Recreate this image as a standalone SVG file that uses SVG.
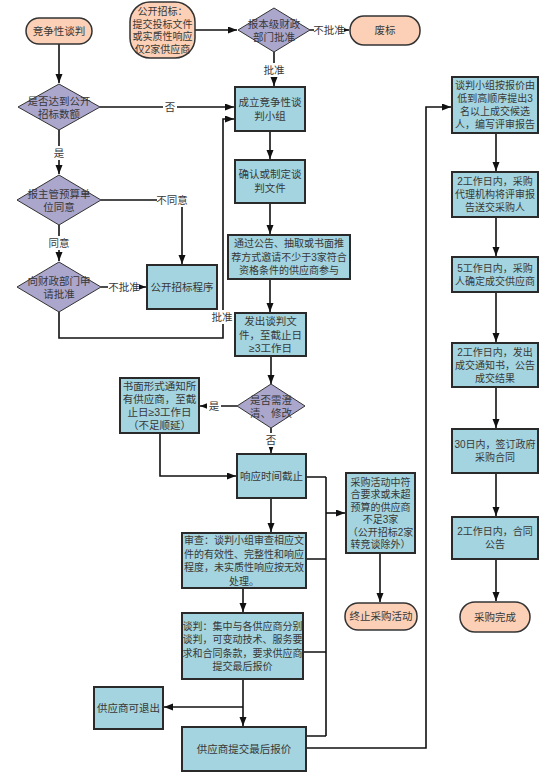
<svg xmlns="http://www.w3.org/2000/svg" width="555" height="774" viewBox="0 0 555 774">
<defs>
<marker id="arr" markerWidth="10" markerHeight="8" refX="9" refY="3.5" orient="auto" markerUnits="userSpaceOnUse">
<path d="M0,0 L9,3.5 L0,7 z" fill="#111"/>
</marker>
</defs>
<style>
text{font-family:"Liberation Sans","Noto Sans CJK SC",sans-serif;font-size:10.5px;fill:#383838;text-anchor:middle}
.s{font-size:10px}
.pill{fill:#fbd0b6;stroke:#333;stroke-width:1.5}
.box{fill:#a3d4df;stroke:#2a2a2a;stroke-width:2}
.dia{fill:#aba6cc;stroke:#333;stroke-width:1}
.ln{fill:none;stroke:#111;stroke-width:1.6}
.lb{fill:#fff}
</style>
<rect width="555" height="774" fill="#fff"/>
<g id="connectors">
<path class="ln" d="M59,44 V83" marker-end="url(#arr)"/>
<path class="ln" d="M195,30 H237" marker-end="url(#arr)"/>
<path class="ln" d="M310,30 H349" marker-end="url(#arr)"/>
<rect class="lb" x="314" y="23" width="30" height="14"/><text x="329" y="34">不批准</text>
<path class="ln" d="M274,52 V86" marker-end="url(#arr)"/>
<rect class="lb" x="262" y="63" width="24" height="14"/><text x="274" y="74">批准</text>
<path class="ln" d="M100,107 H234" marker-end="url(#arr)"/>
<rect class="lb" x="163" y="100" width="14" height="14"/><text x="170" y="111">否</text>
<path class="ln" d="M59,130 V174" marker-end="url(#arr)"/>
<rect class="lb" x="52" y="146" width="14" height="14"/><text x="59" y="157">是</text>
<path class="ln" d="M101,200 H182 V264" marker-end="url(#arr)"/>
<rect class="lb" x="157" y="193" width="31" height="14"/><text x="172" y="204">不同意</text>
<path class="ln" d="M59,225 V261" marker-end="url(#arr)"/>
<rect class="lb" x="47" y="236" width="24" height="14"/><text x="59" y="247">同意</text>
<path class="ln" d="M101,287 H146" marker-end="url(#arr)"/>
<rect class="lb" x="108" y="280" width="31" height="14"/><text x="124" y="291">不批准</text>
<path class="ln" d="M59,312 V338 H223 V119 H234" marker-end="url(#arr)"/>
<rect class="lb" x="210" y="310" width="25" height="14"/><text x="222" y="321">批准</text>
<path class="ln" d="M270,131 V159" marker-end="url(#arr)"/>
<path class="ln" d="M270,203 V234" marker-end="url(#arr)"/>
<path class="ln" d="M270,279 V312" marker-end="url(#arr)"/>
<path class="ln" d="M271,356 V384" marker-end="url(#arr)"/>
<path class="ln" d="M237,406 H200" marker-end="url(#arr)"/>
<rect class="lb" x="207" y="399" width="14" height="14"/><text x="214" y="410">是</text>
<path class="ln" d="M160,433 V476 H236" marker-end="url(#arr)"/>
<path class="ln" d="M271,428 V453" marker-end="url(#arr)"/>
<rect class="lb" x="264" y="433" width="14" height="14"/><text x="271" y="444">否</text>
<path class="ln" d="M271,498 V532" marker-end="url(#arr)"/>
<path class="ln" d="M243,588 V612" marker-end="url(#arr)"/>
<path class="ln" d="M243,679 V726" marker-end="url(#arr)"/>
<path class="ln" d="M243,707 H164" marker-end="url(#arr)"/>
<path class="ln" d="M306,477 H326 M306,559 H326 M303,652 H326 M306,736 H326 M326,477 V736"/>
<path class="ln" d="M326,513 H345" marker-end="url(#arr)"/>
<path class="ln" d="M380,553 V602" marker-end="url(#arr)"/>
<path class="ln" d="M306,748 H426 V107 H451" marker-end="url(#arr)"/>
<path class="ln" d="M496,133 V171" marker-end="url(#arr)"/>
<path class="ln" d="M496,217 V256" marker-end="url(#arr)"/>
<path class="ln" d="M496,292 V342" marker-end="url(#arr)"/>
<path class="ln" d="M496,387 V428" marker-end="url(#arr)"/>
<path class="ln" d="M496,473 V516" marker-end="url(#arr)"/>
<path class="ln" d="M496,559 V601" marker-end="url(#arr)"/>
</g>
<g id="start"><rect class="pill" x="26" y="18" width="66" height="26" rx="13"/><text x="59" y="35">竞争性谈判</text></g>
<g id="open-tender"><rect class="pill" x="130" y="2" width="65" height="56" rx="20"/>
<text class="s"><tspan x="162.5" y="15">公开招标：</tspan><tspan x="162.5" y="27.5">提交投标文件</tspan><tspan x="162.5" y="40">或实质性响应</tspan><tspan x="162.5" y="52.5">仅2家供应商</tspan></text></g>
<g id="d-finance"><polygon class="dia" points="238,30 274,8 310,30 274,52"/><text><tspan x="274" y="28">报本级财政</tspan><tspan x="274" y="41">部门批准</tspan></text></g>
<g id="abandon"><rect class="pill" x="350" y="16" width="70" height="29" rx="14"/><text x="385" y="34">废标</text></g>
<g id="d-amount"><polygon class="dia" points="18,107 59,84 100,107 59,130"/><text><tspan x="59" y="105">是否达到公开</tspan><tspan x="59" y="118">招标数额</tspan></text></g>
<g id="d-budget"><polygon class="dia" points="17,200 59,175 101,200 59,225"/><text><tspan x="59" y="198">报主管预算单</tspan><tspan x="59" y="211">位同意</tspan></text></g>
<g id="d-apply"><polygon class="dia" points="17,287 59,262 101,287 59,312"/><text><tspan x="59" y="285">向财政部门申</tspan><tspan x="59" y="298">请批准</tspan></text></g>
<g id="public-procedure"><rect class="box" x="147" y="265" width="70" height="44"/><text x="182" y="291">公开招标程序</text></g>
<g id="team"><rect class="box" x="235" y="87" width="70" height="44"/><text><tspan x="270" y="106">成立竞争性谈</tspan><tspan x="270" y="120">判小组</tspan></text></g>
<g id="docs"><rect class="box" x="235" y="160" width="70" height="43"/><text><tspan x="270" y="178">确认或制定谈</tspan><tspan x="270" y="192">判文件</tspan></text></g>
<g id="invite"><rect class="box" x="228" y="235" width="122" height="44"/><text class="s"><tspan x="289" y="247">通过公告、抽取或书面推</tspan><tspan x="289" y="260.5">荐方式邀请不少于3家符合</tspan><tspan x="289" y="274">资格条件的供应商参与</tspan></text></g>
<g id="issue"><rect class="box" x="235" y="313" width="71" height="43"/><text><tspan x="270.5" y="325">发出谈判文</tspan><tspan x="270.5" y="338.5">件，至截止日</tspan><tspan x="270.5" y="352">≥3工作日</tspan></text></g>
<g id="d-clarify"><polygon class="dia" points="237,406 271,384 305,406 271,428"/><text><tspan x="271" y="404">是否需澄</tspan><tspan x="271" y="417">清、修改</tspan></text></g>
<g id="notify"><rect class="box" x="120" y="378" width="79" height="55"/><text><tspan x="159.5" y="390">书面形式通知所</tspan><tspan x="159.5" y="403">有供应商，至截</tspan><tspan x="159.5" y="416">止日≥3工作日</tspan><tspan x="159.5" y="429">（不足顺延）</tspan></text></g>
<g id="deadline"><rect class="box" x="237" y="454" width="69" height="44"/><text x="271.5" y="480">响应时间截止</text></g>
<g id="review"><rect class="box" x="182" y="533" width="124" height="55"/><text class="s"><tspan x="244" y="544">审查：谈判小组审查相应文</tspan><tspan x="244" y="557.5">件的有效性、完整性和响应</tspan><tspan x="244" y="571">程度，未实质性响应按无效</tspan><tspan x="244" y="584.5">处理。</tspan></text></g>
<g id="negotiate"><rect class="box" x="182" y="613" width="121" height="66"/><text class="s"><tspan x="242.5" y="629.5">谈判：集中与各供应商分别</tspan><tspan x="242.5" y="643">谈判，可变动技术、服务要</tspan><tspan x="242.5" y="656.5">求和合同条款，要求供应商</tspan><tspan x="242.5" y="670">提交最后报价</tspan></text></g>
<g id="withdraw"><rect class="box" x="94" y="687" width="69" height="42"/><text x="128.5" y="712">供应商可退出</text></g>
<g id="final-offer"><rect class="box" x="182" y="727" width="124" height="44"/><text x="244" y="753">供应商提交最后报价</text></g>
<g id="insufficient"><rect class="box" x="346" y="473" width="69" height="80"/><text class="s"><tspan x="380.5" y="485.5">采购活动中符</tspan><tspan x="380.5" y="498">合要求或未超</tspan><tspan x="380.5" y="510.5">预算的供应商</tspan><tspan x="380.5" y="523">不足3家</tspan><tspan x="380.5" y="535.5">（公开招标2家</tspan><tspan x="380.5" y="548">转竞谈除外）</tspan></text></g>
<g id="terminate"><rect class="pill" x="345" y="603" width="72" height="27" rx="13"/><text x="381" y="620">终止采购活动</text></g>
<g id="candidates"><rect class="box" x="452" y="77" width="86" height="56"/><text class="s"><tspan x="495" y="89">谈判小组按报价由</tspan><tspan x="495" y="102">低到高顺序提出3</tspan><tspan x="495" y="115">名以上成交候选</tspan><tspan x="495" y="128">人，编写评审报告</tspan></text></g>
<g id="report"><rect class="box" x="452" y="172" width="86" height="45"/><text class="s"><tspan x="495" y="185">2工作日内，采购</tspan><tspan x="495" y="198">代理机构将评审报</tspan><tspan x="495" y="211">告送交采购人</tspan></text></g>
<g id="confirm"><rect class="box" x="452" y="257" width="86" height="35"/><text class="s"><tspan x="495" y="271.5">5工作日内，采购</tspan><tspan x="495" y="284.5">人确定成交供应商</tspan></text></g>
<g id="notice"><rect class="box" x="452" y="343" width="86" height="44"/><text class="s"><tspan x="495" y="355.5">2工作日内，发出</tspan><tspan x="495" y="368.5">成交通知书，公告</tspan><tspan x="495" y="381.5">成交结果</tspan></text></g>
<g id="contract"><rect class="box" x="452" y="429" width="86" height="44"/><text class="s"><tspan x="495" y="448">30日内，签订政府</tspan><tspan x="495" y="461">采购合同</tspan></text></g>
<g id="contract-notice"><rect class="box" x="452" y="517" width="86" height="42"/><text class="s"><tspan x="495" y="535">2工作日内，合同</tspan><tspan x="495" y="548">公告</tspan></text></g>
<g id="done"><rect class="pill" x="460" y="602" width="70" height="30" rx="15"/><text x="495" y="621">采购完成</text></g>
</svg>
